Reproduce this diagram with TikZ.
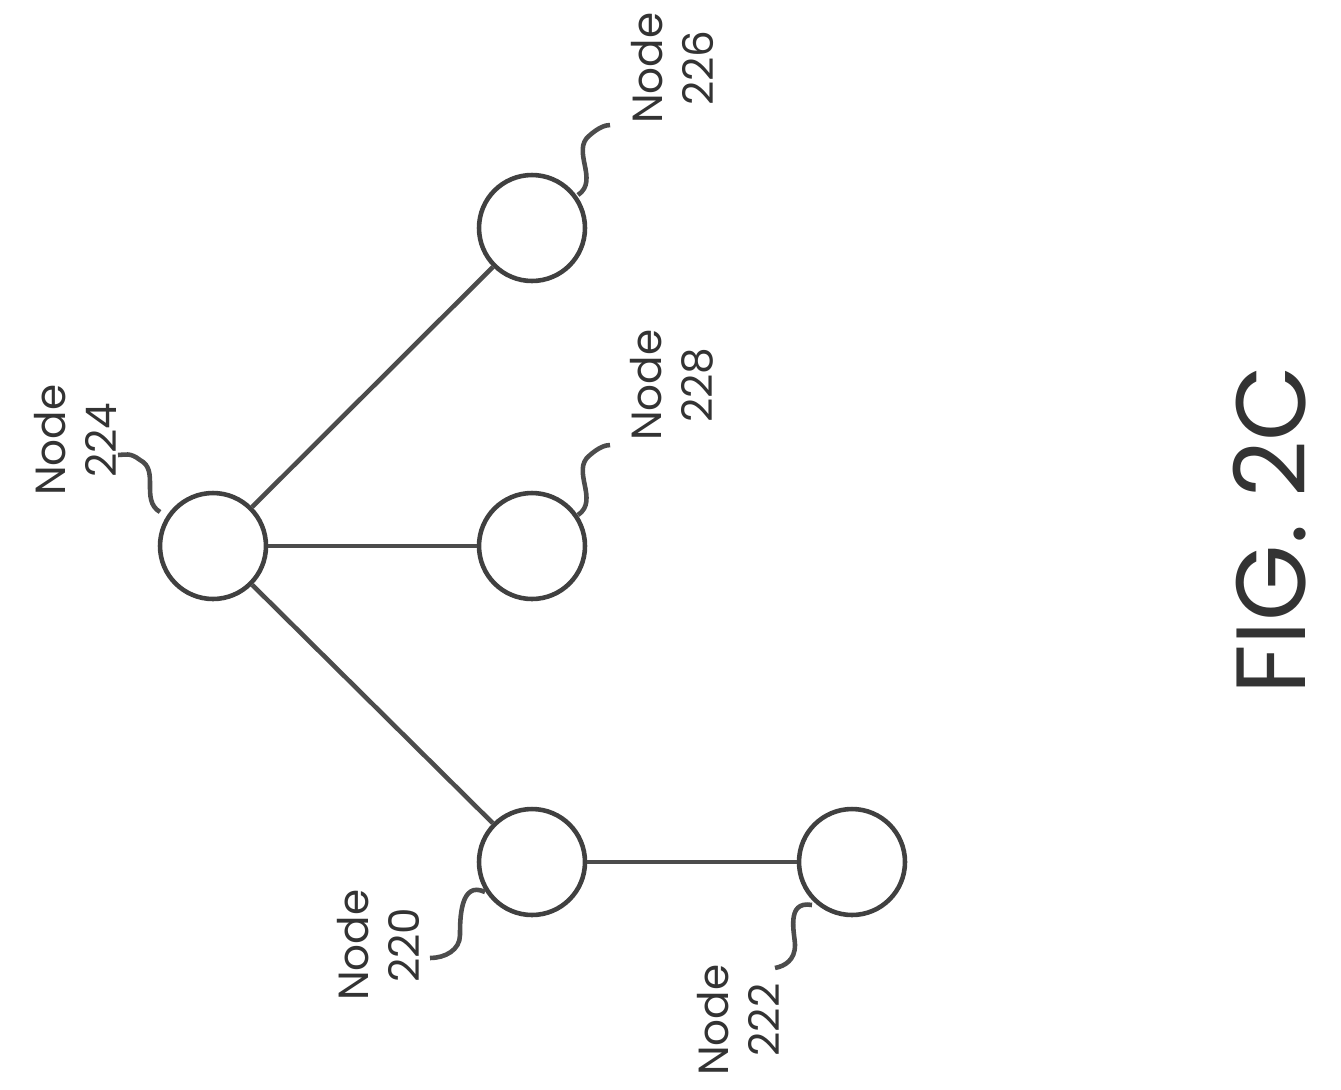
\documentclass[tikz,border=0pt]{standalone}
\usepackage{fontspec}
\setmainfont{Poppins}
\begin{document}
\begin{tikzpicture}[x=0.02cm,y=-0.02cm,
  nd/.style={circle,draw=black!75,line width=2.6pt,minimum size=2.12cm,inner sep=0pt},
  ln/.style={draw=black!70,line width=2.6pt},
  lbl/.style={rotate=90,align=center,font=\fontsize{24}{29}\selectfont,text=black!80}]
\useasboundingbox (0,0) rectangle (1341,1089);
\node[nd] (n224) at (213,546) {};
\node[nd] (n228) at (532,546) {};
\node[nd] (n226) at (532,228) {};
\node[nd] (n220) at (532,862) {};
\node[nd] (n222) at (852,862) {};
\draw[ln] (n224) -- (n228);
\draw[ln] (n224) -- (n226);
\draw[ln] (n224) -- (n220);
\draw[ln] (n220) -- (n222);
\node[lbl] (t224) at (75,440) {Node\\224};
\node[lbl] (t228) at (672,385) {Node\\228};
\node[lbl] (t226) at (672,68) {Node\\226};
\node[lbl] (t220) at (378,945) {Node\\220};
\node[lbl] (t222) at (738,1020) {Node\\222};
\node[rotate=90,font=\fontsize{56}{60}\selectfont,text=black!80] (fig) at (1270,530) {FIG. 2C};
\coordinate (a1) at (160,512); \coordinate (b1) at (118,455);
\draw[ln] (a1) .. controls (140,500) and (160,470) .. (140,460) .. controls (130,452) and (125,455) .. (b1);
\coordinate (a2) at (578,515); \coordinate (b2) at (610,445);
\draw[ln] (a2) .. controls (600,500) and (570,470) .. (590,455) .. controls (598,448) and (605,445) .. (b2);
\coordinate (a3) at (578,195); \coordinate (b3) at (610,125);
\draw[ln] (a3) .. controls (600,180) and (570,150) .. (590,135) .. controls (598,128) and (605,125) .. (b3);
\coordinate (a4) at (485,892); \coordinate (b4) at (430,958);
\draw[ln] (a4) .. controls (460,880) and (460,920) .. (460,935) .. controls (460,950) and (445,958) .. (b4);
\coordinate (a5) at (812,905); \coordinate (b5) at (775,968);
\draw[ln] (a5) .. controls (785,900) and (795,935) .. (795,945) .. controls (795,960) and (785,966) .. (b5);
\end{tikzpicture}
\end{document}
